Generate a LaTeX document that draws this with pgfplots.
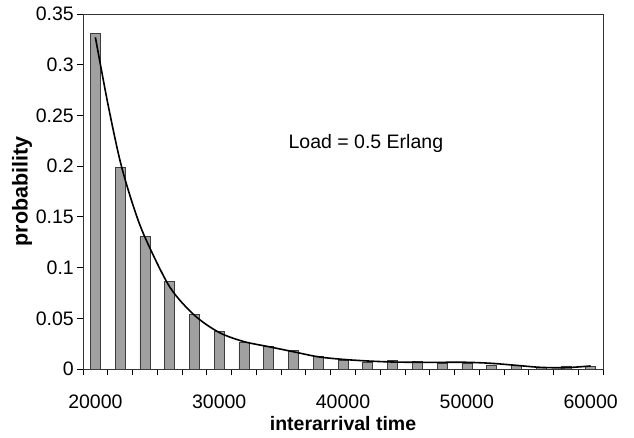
\documentclass[border=0pt]{standalone}
\usepackage{fontspec}
\setmainfont{Liberation Sans}
\usepackage{pgfplots}
\pgfplotsset{compat=1.18}
\definecolor{barfill}{RGB}{160,160,160}
\definecolor{barline}{RGB}{60,60,60}
\begin{document}
\fontsize{19.5}{23}\selectfont
\begin{tikzpicture}
\path[use as bounding box] (-83pt,-68pt) rectangle (551pt,369pt);
\begin{axis}[
  at={(0,0)}, anchor=south west,
  scale only axis, width=520pt, height=355pt,
  xmin=-0.5, xmax=20.5, ymin=0, ymax=0.35,
  axis line style={black!80, line width=0.8pt},
  tick style={black, line width=0.8pt},
  tick align=outside, tick pos=left, major tick length=6pt,
  xtick={-0.5,0.5,1.5,2.5,3.5,4.5,5.5,6.5,7.5,8.5,9.5,10.5,11.5,12.5,13.5,14.5,15.5,16.5,17.5,18.5,19.5,20.5},
  xticklabels={},
  extra x ticks={0,5,10,15,20},
  extra x tick labels={20000,30000,40000,50000,60000},
  extra x tick style={major tick length=0pt, tick label style={anchor=base, yshift=-39pt}},
  ytick={0,0.05,0.1,0.15,0.2,0.25,0.3,0.35},
  yticklabels={0,0.05,0.1,0.15,0.2,0.25,0.3,0.35},
  yticklabel style={anchor=east, inner sep=0pt, xshift=-3pt},
  xlabel={\bfseries interarrival time},
  xlabel style={at={(axis description cs:0.5,0)}, anchor=base, yshift=-61pt},
  ylabel={\fontsize{21.5}{25}\selectfont\bfseries probability},
  ylabel style={at={(axis description cs:-0.117,0.5)}, anchor=center},
  /pgf/number format/assume math mode=true,
  clip=false,
]
\addplot[ybar, bar width=10pt, fill=barfill, draw=barline, line width=0.6pt] coordinates {
(0,0.331) (1,0.199) (2,0.1305) (3,0.086) (4,0.054) (5,0.037) (6,0.026)
(7,0.022) (8,0.018) (9,0.013) (10,0.009) (11,0.007) (12,0.0086) (13,0.0076)
(14,0.006) (15,0.0053) (16,0.004) (17,0.0036) (18,0.0015) (19,0.003) (20,0.0023)
};
\addplot[smooth, black, line width=1.6pt, mark=none] coordinates {
(0,0.327) (0.5,0.262) (1,0.205) (1.5,0.163) (2,0.13) (3,0.081) (4,0.053) (5,0.036) (6,0.027)
(7,0.022) (8,0.017) (9,0.012) (10,0.0095) (11,0.0079) (12,0.0069) (13,0.0066)
(14,0.0066) (15,0.0066) (16,0.0056) (17,0.0036) (18,0.0016) (19,0.0013) (20,0.003)
};
\node[anchor=base] at (rel axis cs:0.544,0.62) {Load = 0.5 Erlang};
\end{axis}
\end{tikzpicture}
\end{document}
